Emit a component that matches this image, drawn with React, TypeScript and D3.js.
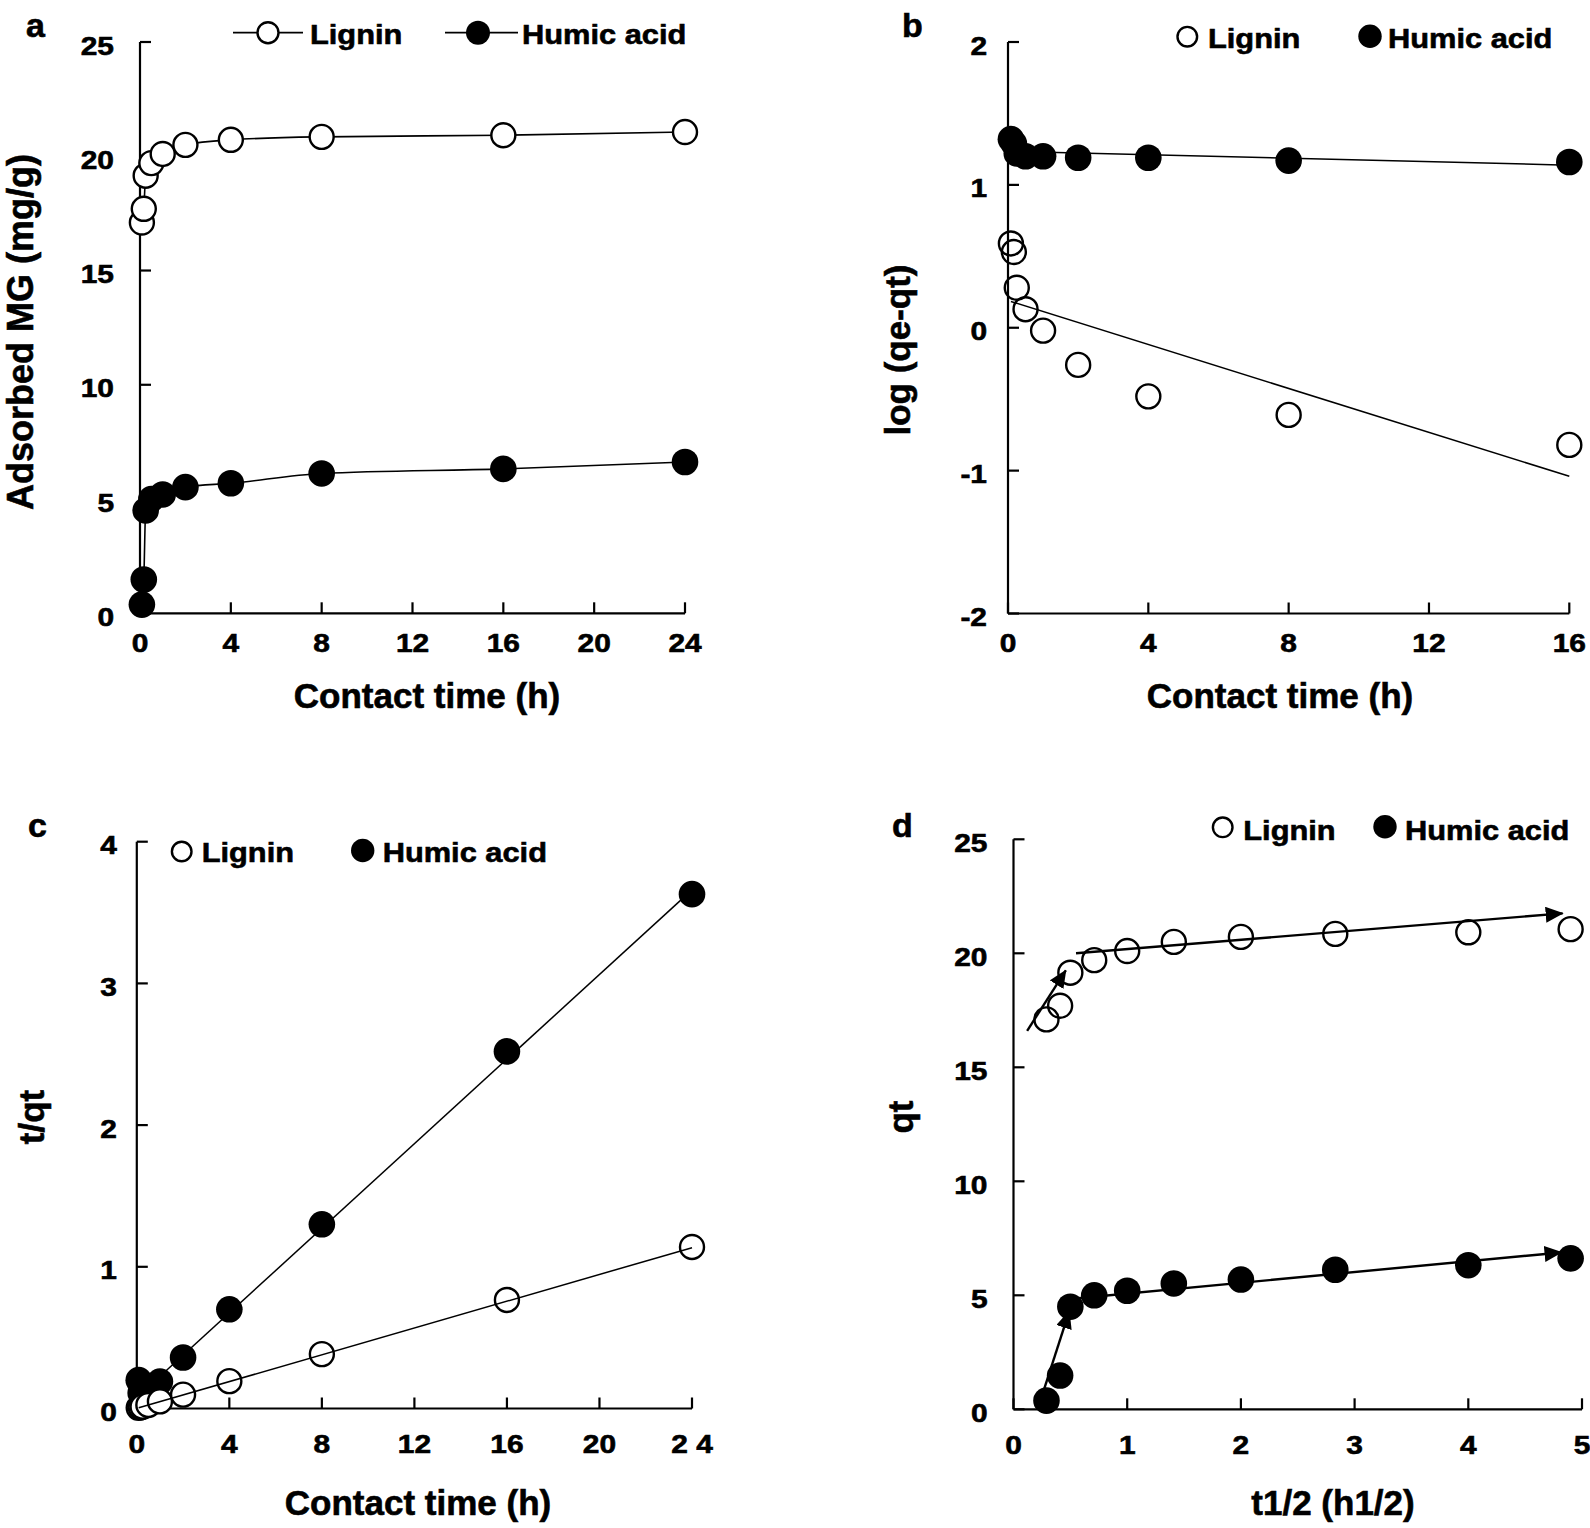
import * as d3 from "d3";

// sampling times (h) and their square roots (h^1/2)
const times = [0.083, 0.167, 0.25, 0.5, 1, 2, 4, 8, 16, 24];
const sqrtTimes = [0.29, 0.41, 0.5, 0.71, 1, 1.41, 2, 2.83, 4, 4.9];

// adsorbed MG, qt (mg/g)
const ligninQt = [17.1, 17.7, 19.15, 19.7, 20.1, 20.5, 20.72, 20.85, 20.92, 21.06];
const humicQt = [0.38, 1.48, 4.5, 5.0, 5.2, 5.52, 5.69, 6.12, 6.32, 6.62];

// pseudo-first-order, log(qe-qt)
const bTimes = [0.083, 0.167, 0.25, 0.5, 1, 2, 4, 8, 16];
const ligninLog = [0.59, 0.53, 0.28, 0.13, -0.02, -0.26, -0.48, -0.61, -0.82];
const humicLog = [1.32, 1.29, 1.22, 1.2, 1.2, 1.19, 1.19, 1.17, 1.16];
const ligninLogFit: [number, number][] = [[0.083, 0.184], [16, -1.04]];
const humicLogFit: [number, number][] = [[0.083, 1.235], [16, 1.138]];

// pseudo-second-order, t/qt
const ligninTQt = [0.005, 0.009, 0.013, 0.025, 0.05, 0.098, 0.193, 0.384, 0.766, 1.14];
const humicTQt = [0.2, 0.11, 0.055, 0.1, 0.19, 0.36, 0.7, 1.3, 2.52, 3.63];
const ligninTQtFit: [number, number][] = [[0.083, 0.005], [24, 1.135]];
const humicTQtFit: [number, number][] = [[0.083, 0.09], [24, 3.66]];

// intraparticle diffusion segments (arrows)
const ligninArrows: [number, number][][] = [
  [[0.12, 16.6], [0.46, 19.25]],
  [[0.55, 20.0], [4.83, 21.75]],
];
const humicArrows: [number, number][][] = [
  [[0.27, 0.9], [0.49, 4.3]],
  [[0.52, 4.85], [4.82, 6.88]],
];

const ticksA = { x: [0, 4, 8, 12, 16, 20, 24], y: [0, 5, 10, 15, 20, 25] };
const ticksB = { x: [0, 4, 8, 12, 16], y: [-2, -1, 0, 1, 2] };
const ticksC = { x: [0, 4, 8, 12, 16, 20, 24], y: [0, 1, 2, 3, 4] };
const ticksCLabels = ["0", "4", "8", "12", "16", "20", "2 4"];
const ticksD = { x: [0, 1, 2, 3, 4, 5], y: [0, 5, 10, 15, 20, 25] };

const FONT = "'Liberation Sans', Arial, Helvetica, sans-serif";
const TICK_SIZE = 26;
const TICK_SX = 1.15;
const LEG_SIZE = 28;
const LEG_SX = 1.1;
const TITLE_SIZE = 35;

function Txt({ x, y, size, anchor = "start", sx = 1, rotate = 0, children }: any) {
  return (
    <text
      transform={`translate(${x},${y}) rotate(${rotate}) scale(${sx},1)`}
      textAnchor={anchor}
      fontSize={size}
      fontWeight="bold"
      fontFamily={FONT}
      fill="#000"
      stroke="#000"
      strokeWidth={0.6}
    >
      {children}
    </text>
  );
}

function Axes({ xs, ys, xTicks, yTicks, xLabels, yGap, xLabelDy }: any) {
  const [x0, x1] = xs.range();
  const [y0, y1] = ys.range();
  return (
    <g>
      <line x1={x0} x2={x0} y1={y1} y2={y0} stroke="#000" strokeWidth={2.2} />
      <line x1={x0} x2={x1} y1={y0} y2={y0} stroke="#000" strokeWidth={2.2} />
      {yTicks.map((t: number) => (
        <g key={"y" + t}>
          <line x1={x0} x2={x0 + 11} y1={ys(t)} y2={ys(t)} stroke="#000" strokeWidth={2.2} />
          <Txt x={x0 - yGap} y={ys(t) + 12.5} size={TICK_SIZE} anchor="end" sx={TICK_SX}>
            {t}
          </Txt>
        </g>
      ))}
      {xTicks.map((t: number, i: number) => (
        <g key={"x" + t}>
          <line x1={xs(t)} x2={xs(t)} y1={y0} y2={y0 - 11} stroke="#000" strokeWidth={2.2} />
          <Txt x={xs(t)} y={y0 + xLabelDy} size={TICK_SIZE} anchor="middle" sx={TICK_SX}>
            {xLabels ? xLabels[i] : t}
          </Txt>
        </g>
      ))}
    </g>
  );
}

function Open({ cx, cy, r = 12, fill = "white" }: any) {
  return <circle cx={cx} cy={cy} r={r} fill={fill} stroke="#000" strokeWidth={2.4} />;
}
function Filled({ cx, cy, r = 13.3 }: any) {
  return <circle cx={cx} cy={cy} r={r} fill="#000" />;
}

export default function App() {
  // panel a
  const xa = d3.scaleLinear().domain([0, 24]).range([140, 685]);
  const ya = d3.scaleLinear().domain([0, 25]).range([613.3, 42]);
  // panel b
  const xb = d3.scaleLinear().domain([0, 16]).range([1008, 1569.3]);
  const yb = d3.scaleLinear().domain([-2, 2]).range([613.5, 42]);
  // panel c
  const xc = d3.scaleLinear().domain([0, 24]).range([136.8, 692]);
  const yc = d3.scaleLinear().domain([0, 4]).range([1408.5, 841.7]);
  // panel d
  const xd = d3.scaleLinear().domain([0, 5]).range([1013.5, 1582]);
  const yd = d3.scaleLinear().domain([0, 25]).range([1409.3, 839.3]);

  const curveA = d3
    .line<number>()
    .x((_, i) => xa(times[i]))
    .curve(d3.curveMonotoneX);
  const ligninPathA = curveA.y((v) => ya(v))(ligninQt) as string;
  const humicPathA = curveA.y((v) => ya(v))(humicQt) as string;

  const seg = (xs: any, ys: any) =>
    d3
      .line<[number, number]>()
      .x((d) => xs(d[0]))
      .y((d) => ys(d[1]));

  return (
    <svg
      width={1590}
      height={1528}
      style={{ position: "absolute", left: 0, top: 0, display: "block", background: "#fff" }}
    >
      <defs>
        <marker
          id="arrow"
          markerUnits="userSpaceOnUse"
          markerWidth={18}
          markerHeight={16}
          refX={17}
          refY={8}
          orient="auto"
        >
          <path d="M0,0 L18,8 L0,16 Z" fill="#000" />
        </marker>
      </defs>

      {/* ---------- panel a ---------- */}
      <Txt x={26} y={37} size={34}>a</Txt>
      <Axes xs={xa} ys={ya} xTicks={ticksA.x} yTicks={ticksA.y} yGap={26} xLabelDy={39} />
      <path d={humicPathA} fill="none" stroke="#000" strokeWidth={1.6} />
      <path d={ligninPathA} fill="none" stroke="#000" strokeWidth={1.6} />
      {humicQt.map((v, i) => (
        <Filled key={"ha" + i} cx={xa(times[i])} cy={ya(v)} />
      ))}
      {ligninQt.map((v, i) => (
        <Open key={"la" + i} cx={xa(times[i])} cy={ya(v)} />
      ))}
      <Txt x={427} y={708} size={TITLE_SIZE} anchor="middle">Contact time (h)</Txt>
      <Txt x={33} y={332} size={36} anchor="middle" rotate={-90}>Adsorbed MG (mg/g)</Txt>
      {/* legend a */}
      <line x1={233} x2={303} y1={32.7} y2={32.7} stroke="#000" strokeWidth={1.8} />
      <Open cx={268} cy={32.7} r={10.5} />
      <Txt x={310} y={44} size={LEG_SIZE} sx={LEG_SX}>Lignin</Txt>
      <line x1={445} x2={518} y1={32.7} y2={32.7} stroke="#000" strokeWidth={1.8} />
      <Filled cx={478} cy={32.7} r={12} />
      <Txt x={522} y={44} size={LEG_SIZE} sx={LEG_SX}>Humic acid</Txt>

      {/* ---------- panel b ---------- */}
      <Txt x={902} y={37} size={34}>b</Txt>
      <Axes xs={xb} ys={yb} xTicks={ticksB.x} yTicks={ticksB.y} yGap={21} xLabelDy={38} />
      {humicLog.map((v, i) => (
        <Filled key={"hb" + i} cx={xb(bTimes[i])} cy={yb(v)} />
      ))}
      {ligninLog.map((v, i) => (
        <Open key={"lb" + i} cx={xb(bTimes[i])} cy={yb(v)} fill="none" />
      ))}
      <path d={seg(xb, yb)(humicLogFit) as string} stroke="#000" strokeWidth={1.5} fill="none" />
      <path d={seg(xb, yb)(ligninLogFit) as string} stroke="#000" strokeWidth={1.5} fill="none" />
      <Txt x={1280} y={708} size={TITLE_SIZE} anchor="middle">Contact time (h)</Txt>
      <Txt x={910} y={350} size={35} anchor="middle" rotate={-90}>log (qe-qt)</Txt>
      {/* legend b */}
      <Open cx={1187.3} cy={36.7} r={9.8} />
      <Txt x={1208} y={48} size={LEG_SIZE} sx={LEG_SX}>Lignin</Txt>
      <Filled cx={1370} cy={36.2} r={11.7} />
      <Txt x={1388} y={48} size={LEG_SIZE} sx={LEG_SX}>Humic acid</Txt>

      {/* ---------- panel c ---------- */}
      <Txt x={28} y={837} size={34}>c</Txt>
      <Axes
        xs={xc}
        ys={yc}
        xTicks={ticksC.x}
        yTicks={ticksC.y}
        xLabels={ticksCLabels}
        yGap={20}
        xLabelDy={44}
      />
      {humicTQt.map((v, i) => (
        <Filled key={"hc" + i} cx={xc(times[i])} cy={yc(v)} />
      ))}
      {ligninTQt.map((v, i) => (
        <Open key={"lc" + i} cx={xc(times[i])} cy={yc(v)} />
      ))}
      <path d={seg(xc, yc)(humicTQtFit) as string} stroke="#000" strokeWidth={1.5} fill="none" />
      <path d={seg(xc, yc)(ligninTQtFit) as string} stroke="#000" strokeWidth={1.5} fill="none" />
      <Txt x={418} y={1515} size={TITLE_SIZE} anchor="middle">Contact time (h)</Txt>
      <Txt x={44} y={1117} size={35} anchor="middle" rotate={-90}>t/qt</Txt>
      {/* legend c */}
      <Open cx={181.7} cy={851.5} r={9.8} />
      <Txt x={201.7} y={862} size={LEG_SIZE} sx={LEG_SX}>Lignin</Txt>
      <Filled cx={362.7} cy={850.5} r={11.7} />
      <Txt x={382.7} y={862} size={LEG_SIZE} sx={LEG_SX}>Humic acid</Txt>

      {/* ---------- panel d ---------- */}
      <Txt x={892} y={837} size={34}>d</Txt>
      <Axes xs={xd} ys={yd} xTicks={ticksD.x} yTicks={ticksD.y} yGap={26} xLabelDy={45} />
      {humicQt.map((v, i) => (
        <Filled key={"hd" + i} cx={xd(sqrtTimes[i])} cy={yd(v)} />
      ))}
      {ligninQt.map((v, i) => (
        <Open key={"ld" + i} cx={xd(sqrtTimes[i])} cy={yd(v)} fill="none" />
      ))}
      {[...ligninArrows, ...humicArrows].map((a, i) => (
        <path
          key={"ar" + i}
          d={seg(xd, yd)(a) as string}
          stroke="#000"
          strokeWidth={2.4}
          fill="none"
          markerEnd="url(#arrow)"
        />
      ))}
      <Txt x={1333} y={1515} size={TITLE_SIZE} anchor="middle">t1/2 (h1/2)</Txt>
      <Txt x={913} y={1117} size={35} anchor="middle" rotate={-90}>qt</Txt>
      {/* legend d */}
      <Open cx={1222.7} cy={827.3} r={9.8} />
      <Txt x={1243.3} y={840} size={LEG_SIZE} sx={LEG_SX}>Lignin</Txt>
      <Filled cx={1385} cy={826.7} r={11.7} />
      <Txt x={1405} y={840} size={LEG_SIZE} sx={LEG_SX}>Humic acid</Txt>
    </svg>
  );
}
